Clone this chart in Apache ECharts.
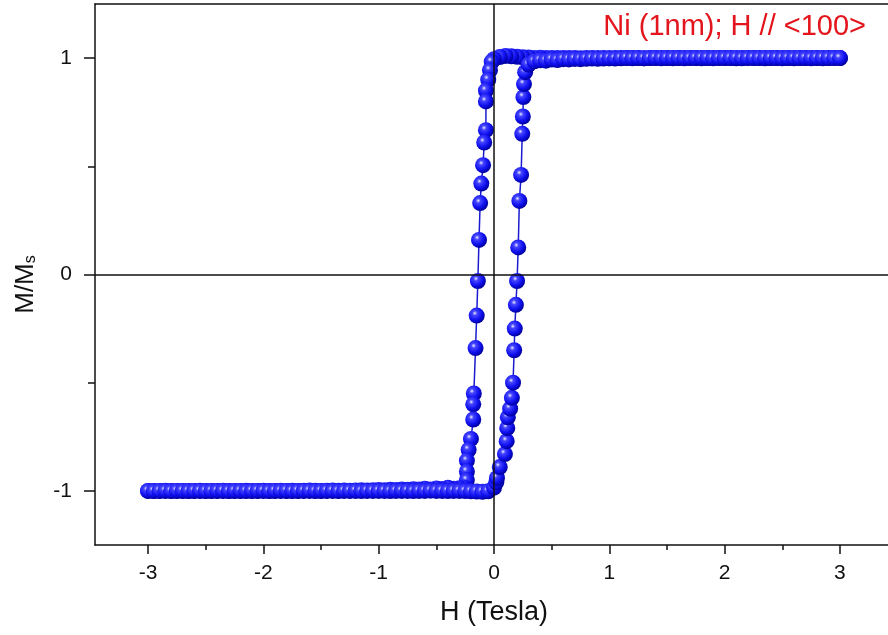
<!DOCTYPE html>
<html>
<head>
<meta charset="utf-8">
<script src="https://cdn.jsdelivr.net/npm/echarts@6/dist/echarts.min.js"></script>
<style>
  html, body { margin: 0; padding: 0; background: #fff; }
  #chart { width: 888px; height: 635px; }
</style>
</head>
<body>
<div id="chart"></div>
<script>
// field sweep from +3 T down to -3 T
var downH = [3.00, 2.95, 2.90, 2.85, 2.80, 2.75, 2.70, 2.65, 2.60, 2.55,
    2.50, 2.45, 2.40, 2.35, 2.30, 2.25, 2.20, 2.15, 2.10, 2.05,
    2.00, 1.95, 1.90, 1.85, 1.80, 1.75, 1.70, 1.65, 1.60, 1.55,
    1.50, 1.45, 1.40, 1.35, 1.30, 1.25, 1.20, 1.15, 1.10, 1.05,
    1.00, 0.95, 0.90, 0.85, 0.80, 0.75, 0.70, 0.65, 0.60, 0.55,
    0.50, 0.45, 0.40, 0.35, 0.30, 0.25, 0.20, 0.15, 0.10, 0.05,
    0.00, -0.02, -0.035, -0.05, -0.07, -0.07, -0.07, -0.085, -0.095, -0.11,
    -0.12, -0.13, -0.14, -0.15, -0.16, -0.175, -0.18, -0.18, -0.20, -0.22,
    -0.235, -0.235, -0.235, -0.26,
    -0.30, -0.35, -0.40, -0.45, -0.50, -0.55, -0.60, -0.65, -0.70, -0.75,
    -0.80, -0.85, -0.90, -0.95, -1.00, -1.05, -1.10, -1.15, -1.20, -1.25,
    -1.30, -1.35, -1.40, -1.45, -1.50, -1.55, -1.60, -1.65, -1.70, -1.75,
    -1.80, -1.85, -1.90, -1.95, -2.00, -2.05, -2.10, -2.15, -2.20, -2.25,
    -2.30, -2.35, -2.40, -2.45, -2.50, -2.55, -2.60, -2.65, -2.70, -2.75,
    -2.80, -2.85, -2.90, -2.95, -3.00];
var downM = [1.000, 1.001, 1.000, 0.999, 1.000, 1.001, 1.000, 1.000, 0.999, 1.000,
    1.001, 1.000, 1.000, 0.999, 1.000, 1.000, 1.001, 1.000, 0.999, 1.000,
    1.000, 1.001, 1.000, 1.000, 0.999, 1.000, 1.001, 1.000, 1.000, 0.999,
    1.000, 1.000, 1.001, 1.000, 0.999, 1.000, 1.000, 1.001, 1.000, 1.000,
    0.999, 1.000, 1.001, 1.000, 1.000, 0.999, 1.000, 1.001, 1.000, 1.000,
    1.001, 1.000, 1.002, 1.001, 1.003, 1.004, 1.006, 1.008, 1.010, 1.005,
    0.995, 0.983, 0.944, 0.900, 0.850, 0.800, 0.667, 0.610, 0.505, 0.420,
    0.330, 0.160, -0.030, -0.190, -0.340, -0.550, -0.600, -0.670, -0.760, -0.810,
    -0.860, -0.910, -0.950, -0.985,
    -0.988, -0.990, -0.986, -0.991, -0.989, -0.993, -0.990, -0.994, -0.992, -0.995,
    -0.993, -0.996, -0.995, -0.997, -0.996, -0.997, -0.998, -0.997, -0.998, -0.999,
    -0.998, -0.999, -0.998, -0.999, -1.000, -0.999, -0.998, -0.999, -1.000, -0.999,
    -1.000, -0.999, -1.000, -1.000, -0.999, -1.000, -1.000, -0.999, -1.000, -1.000,
    -1.000, -0.999, -1.000, -1.000, -1.000, -0.999, -1.000, -1.000, -1.000, -1.000,
    -1.000, -0.999, -1.000, -1.000, -1.000];

// field sweep from -3 T back up to +3 T
var upH = [-3.00, -2.95, -2.90, -2.85, -2.80, -2.75, -2.70, -2.65, -2.60, -2.55,
    -2.50, -2.45, -2.40, -2.35, -2.30, -2.25, -2.20, -2.15, -2.10, -2.05,
    -2.00, -1.95, -1.90, -1.85, -1.80, -1.75, -1.70, -1.65, -1.60, -1.55,
    -1.50, -1.45, -1.40, -1.35, -1.30, -1.25, -1.20, -1.15, -1.10, -1.05,
    -1.00, -0.95, -0.90, -0.85, -0.80, -0.75, -0.70, -0.65, -0.60, -0.55,
    -0.50, -0.45, -0.40, -0.35, -0.30, -0.25, -0.20, -0.15, -0.10, -0.05,
    0.00, 0.02, 0.026, 0.05, 0.095, 0.11, 0.115, 0.12, 0.14, 0.155,
    0.165, 0.175, 0.18, 0.19, 0.20, 0.21, 0.22, 0.235, 0.245, 0.25,
    0.255, 0.26, 0.27, 0.30, 0.35,
    0.40, 0.45, 0.50, 0.55, 0.60, 0.65, 0.70, 0.75, 0.80, 0.85,
    0.90, 0.95, 1.00, 1.05, 1.10, 1.15, 1.20, 1.25, 1.30, 1.35,
    1.40, 1.45, 1.50, 1.55, 1.60, 1.65, 1.70, 1.75, 1.80, 1.85,
    1.90, 1.95, 2.00, 2.05, 2.10, 2.15, 2.20, 2.25, 2.30, 2.35,
    2.40, 2.45, 2.50, 2.55, 2.60, 2.65, 2.70, 2.75, 2.80, 2.85,
    2.90, 2.95, 3.00];
var upM = [-1.000, -1.001, -1.000, -1.000, -1.001, -1.000, -1.000, -1.001, -1.000, -1.000,
    -1.001, -1.000, -1.000, -1.000, -1.001, -1.000, -1.000, -1.001, -1.000, -1.000,
    -1.000, -1.001, -1.000, -1.000, -1.000, -1.001, -1.000, -1.000, -1.000, -1.001,
    -1.000, -1.000, -1.000, -1.001, -1.000, -1.000, -1.000, -1.001, -1.000, -1.000,
    -1.000, -1.000, -1.001, -1.000, -1.000, -1.000, -1.001, -1.000, -1.000, -0.999,
    -1.000, -1.000, -1.001, -1.000, -1.000, -1.001, -1.002, -1.003, -1.004, -1.002,
    -0.985, -0.960, -0.940, -0.890, -0.830, -0.770, -0.710, -0.660, -0.620, -0.570,
    -0.500, -0.350, -0.250, -0.140, -0.030, 0.125, 0.340, 0.460, 0.650, 0.730,
    0.820, 0.880, 0.935, 0.970, 0.985,
    0.990, 0.988, 0.993, 0.991, 0.995, 0.994, 0.996, 0.995, 0.997, 0.998,
    0.997, 0.998, 0.999, 0.998, 0.999, 1.000, 0.999, 1.000, 0.999, 1.000,
    1.000, 0.999, 1.000, 1.000, 1.000, 0.999, 1.000, 1.000, 1.000, 1.000,
    0.999, 1.000, 1.000, 1.000, 1.000, 0.999, 1.000, 1.000, 1.000, 1.000,
    1.000, 1.000, 0.999, 1.000, 1.000, 1.000, 1.000, 0.999, 1.000, 1.000,
    1.000, 1.000, 1.000];

var xLabelValues = [-3, -2, -1, 0, 1, 2, 3];
var xMinorValues = [-2.5, -1.5, -0.5, 0.5, 1.5, 2.5];
var yLabelValues = [-1, 0, 1];
var yMinorValues = [-0.5, 0.5];

var loop = [];
for (var i = 0; i < downH.length; i++) loop.push([downH[i], downM[i]]);
for (var j = 0; j < upH.length; j++) loop.push([upH[j], upM[j]]);

var font = 'Liberation Sans, Arial, sans-serif';
var ball = {
    type: 'radial', x: 0.38, y: 0.35, r: 0.65,
    colorStops: [
        { offset: 0, color: '#eeeeff' },
        { offset: 0.22, color: '#4646ff' },
        { offset: 0.65, color: '#1010f0' },
        { offset: 1, color: '#0000a0' }
    ]
};
var axisColor = '#111';

var chart = echarts.init(document.getElementById('chart'));
chart.setOption({
    animation: false,
    title: {
        text: 'Ni (1nm); H // <100>',
        right: 17,
        top: 7,
        textStyle: { color: '#e3141b', fontSize: 29, fontWeight: 'normal', fontFamily: font }
    },
    grid: {
        left: 95, top: 4, width: 798, bottom: 90,
        outerBoundsMode: 'none',
        show: false
    },
    xAxis: [{
        type: 'value', min: -3.46, max: 3.46,
        name: 'H (Tesla)', nameLocation: 'middle', nameGap: 54,
        nameTextStyle: { fontSize: 27, color: axisColor, fontFamily: font },
        axisLine: { onZero: false, lineStyle: { color: axisColor, width: 1.5 } },
        axisTick: { customValues: xLabelValues, length: 9, lineStyle: { color: axisColor, width: 1.5 } },
        axisLabel: { customValues: xLabelValues, margin: 18, fontSize: 21, color: axisColor, fontFamily: font },
        splitLine: { show: false }
    }, {
        // minor ticks at the half values
        type: 'value', min: -3.46, max: 3.46, position: 'bottom',
        axisLine: { show: false, onZero: false },
        axisTick: { customValues: xMinorValues, length: 5, lineStyle: { color: axisColor, width: 1.5 } },
        axisLabel: { show: false },
        splitLine: { show: false }
    }, {
        // top frame line
        type: 'value', min: -3.46, max: 3.46, position: 'top',
        axisLine: { show: true, onZero: false, lineStyle: { color: axisColor, width: 1.5 } },
        axisTick: { show: false },
        axisLabel: { show: false },
        splitLine: { show: false }
    }],
    yAxis: [{
        type: 'value', min: -1.25, max: 1.25,
        name: 'M/M{s|s}', nameLocation: 'middle', nameGap: 56, nameRotate: 90,
        nameTextStyle: {
            fontSize: 26, color: axisColor, fontFamily: font,
            padding: [0, 20, 0, 0],
            rich: { s: { fontSize: 16, color: axisColor, fontFamily: font, verticalAlign: 'bottom', padding: [8, 0, 0, 0] } }
        },
        axisLine: { onZero: false, lineStyle: { color: axisColor, width: 1.5 } },
        axisTick: { customValues: yLabelValues, length: 11, lineStyle: { color: axisColor, width: 1.5 } },
        axisLabel: { customValues: yLabelValues, margin: 23, fontSize: 21, color: axisColor, fontFamily: font },
        splitLine: { show: false }
    }, {
        type: 'value', min: -1.25, max: 1.25, position: 'left',
        axisLine: { show: false, onZero: false },
        axisTick: { customValues: yMinorValues, length: 7, lineStyle: { color: axisColor, width: 1.5 } },
        axisLabel: { show: false },
        splitLine: { show: false }
    }],
    series: [{
        type: 'line',
        data: loop,
        xAxisIndex: 0,
        yAxisIndex: 0,
        symbol: 'circle',
        symbolSize: 16,
        showAllSymbol: true,
        lineStyle: { color: '#1a1ad0', width: 1.5 },
        itemStyle: { color: ball },
        markLine: {
            silent: true,
            symbol: 'none',
            label: { show: false },
            lineStyle: { color: axisColor, width: 1.5, type: 'solid' },
            data: [{ xAxis: 0 }, { yAxis: 0 }]
        },
        z: 3
    }]
});
</script>
</body>
</html>
